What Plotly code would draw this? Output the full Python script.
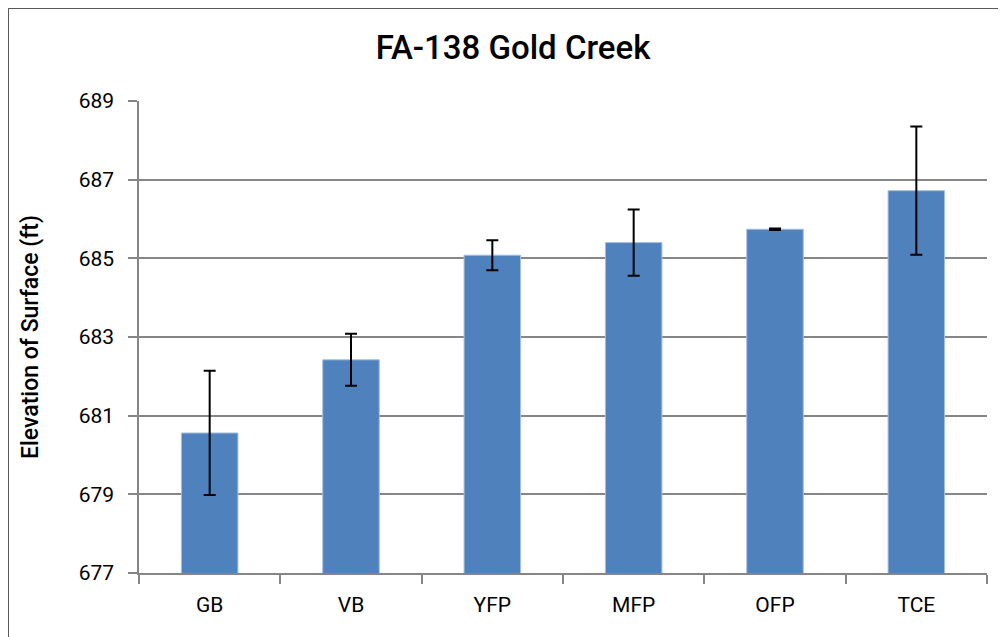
import plotly.graph_objects as go

# categories and values
sites = ["GB", "VB", "YFP", "MFP", "OFP", "TCE"]
elevation = [680.56, 682.42, 685.08, 685.40, 685.74, 686.72]
err = [1.58, 0.66, 0.38, 0.84, 0.02, 1.63]
y_ticks = [677, 679, 681, 683, 685, 687, 689]

font_narrow = "Liberation Sans Narrow, Arial Narrow, Roboto, sans-serif"

fig = go.Figure()
fig.add_trace(go.Bar(
    x=sites, y=elevation,
    marker=dict(color="#4F81BD", line=dict(color="#A7BFDE", width=1)),
    error_y=dict(type="data", array=err, visible=True,
                 color="black", thickness=2, width=6),
))

# the page body adds an 8px offset, so the figure is 998x629
W, H = 998, 629
L, R, T, B = 131, 19, 93, 64
pw, ph = W - L - R, H - T - B

fig.update_layout(
    width=W, height=H,
    margin=dict(l=L, r=R, t=T, b=B),
    paper_bgcolor="white", plot_bgcolor="white",
    bargap=0.6,
    showlegend=False,
    title=dict(text="FA-138 Gold Creek", x=(513 - 8) / W, xanchor="center",
               y=1 - 39 / H, yanchor="middle",
               font=dict(family=font_narrow, size=33, color="black", weight=500)),
    font=dict(family=font_narrow, size=21, color="black"),
    xaxis=dict(
        type="category", tickson="boundaries", ticks="outside", ticklen=9,
        tickcolor="#868686", tickwidth=1.5, ticklabelstandoff=12,
        showline=True, linecolor="#868686", linewidth=1.5,
        showgrid=False, tickfont=dict(size=21),
    ),
    yaxis=dict(
        range=[677, 689], tickvals=y_ticks, ticks="outside", ticklen=9,
        tickcolor="#868686", tickwidth=1.5, ticklabelstandoff=10,
        showline=True, linecolor="#868686", linewidth=1.5,
        showgrid=True, gridcolor="#868686", gridwidth=1.5,
        zeroline=False, tickfont=dict(size=21),
    ),
    annotations=[dict(
        text="Elevation of Surface (ft)", textangle=-90,
        xref="paper", yref="paper", x=(22 - L) / pw, y=0.5,
        xanchor="center", yanchor="middle", showarrow=False,
        font=dict(family=font_narrow, size=23, color="black", weight=500),
    )],
    shapes=[dict(
        type="rect", xref="paper", yref="paper",
        x0=(0 - L) / pw, x1=(W + 10 - L) / pw,
        y0=-(B + 10) / ph, y1=(H - B - 0) / ph - 0.0,
        line=dict(color="#595959", width=2), layer="below",
    )],
)

fig.write_html("out.html")
